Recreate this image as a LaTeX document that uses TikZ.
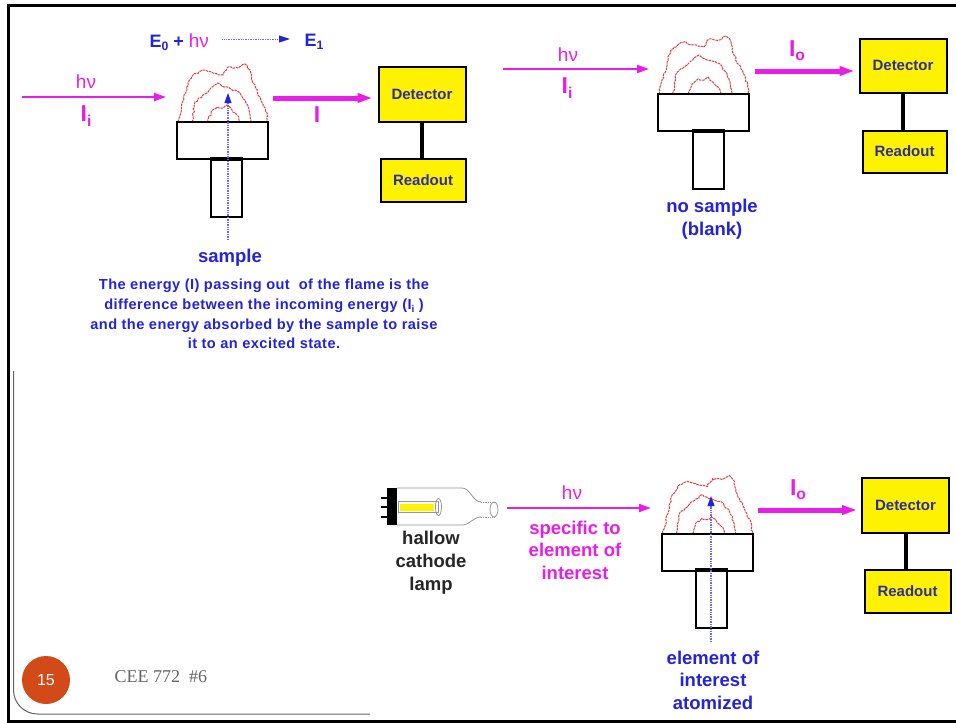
\documentclass[tikz,border=0pt]{standalone}
\usepackage{graphicx}
\usepackage{fontspec}
\setmainfont{Liberation Sans}
\newfontfamily\footserif{Liberation Serif}
\usetikzlibrary{arrows.meta,decorations.pathmorphing}

\definecolor{mag}{RGB}{232,30,232}
\definecolor{txtblue}{RGB}{35,35,215}
\definecolor{boxtxt}{RGB}{45,45,165}
\definecolor{flamered}{RGB}{232,60,60}
\definecolor{rayblue}{RGB}{105,105,255}
\definecolor{badge}{RGB}{210,74,24}
\definecolor{glass}{RGB}{150,150,150}
\definecolor{footgray}{RGB}{100,100,100}

% small lowered index, e.g. I_i, E_0
\newcommand\lowidx[1]{\raisebox{-0.35ex}{\scalebox{0.68}{#1}}}

\tikzset{
  burnerhead/.style={draw, line width=2pt, fill=white, minimum width=91pt, minimum height=37pt, inner sep=0pt},
  burnerneck/.style={draw, line width=2pt, fill=white, minimum width=31pt, minimum height=57pt, inner sep=0pt},
  instr/.style={draw, line width=2pt, fill=yellow, inner sep=0pt, text=boxtxt,
                font=\fontsize{15}{18}\selectfont\bfseries},
  link/.style={line width=4pt},
  beamin/.style={mag, line width=2pt, -{Triangle[length=12pt,width=8pt]}},
  beamout/.style={mag, line width=5pt, -{Triangle[length=15pt,width=9pt]}},
  ray/.style={rayblue, dash pattern=on 1pt off 0.7pt, line width=1.2pt,
              -{Triangle[length=10pt,width=7pt,color=txtblue]}},
  beamlbl/.style={mag, font=\fontsize{19}{21}\selectfont},
  intlbl/.style={mag, font=\fontsize{23}{25}\selectfont\bfseries},
  bluetxt/.style={txtblue, align=center, font=\fontsize{18.5}{22.5}\selectfont\bfseries},
  flameline/.style={flamered, line width=1pt, dash pattern=on 2.5pt off 0.8pt,
                    decorate, decoration={random steps, segment length=2.5pt, amplitude=1pt}},
  flamepic/.pic={
    \draw[flameline] (1,0) -- (11,-39) -- (16,-47) -- (26,-52) -- (36,-49) -- (46,-47)
      -- (51,-55) -- (61,-54) -- (68,-58) -- (73,-52) -- (76,-39) -- (83,-25) -- (90,-9) -- (91,0);
    \draw[flameline] (15,0) -- (18,-20) -- (25,-26) -- (33,-33) -- (41,-39) -- (47,-35)
      -- (54,-33) -- (62,-30) -- (68,-22) -- (72,-12) -- (74,0);
    \draw[flameline] (31,0) -- (34,-10) -- (40,-15) -- (46,-14) -- (50,-17) -- (55,-12)
      -- (60,-7) -- (63,0);
  }
}

\begin{document}
\begin{tikzpicture}[x=1pt, y=-1pt]
\pgfmathsetseed{11}
\useasboundingbox (0,0) rectangle (956,723);
\fill[white] (0,0) rectangle (956,723);

% slide frame
\draw[line width=3pt] (956,5.5) -- (8.5,5.5) -- (8.5,721) -- (956,721);
\draw[footgray, line width=1pt] (13.5,371) -- (13.5,690) arc[start angle=180, end angle=90, radius=24] -- (370,714);

% ---------- flame with sample ----------
\pic at (177,122) {flamepic};
\node[burnerhead] (headA) at (222.5,140.5) {};
\node[burnerneck] (neckA) at (226.5,188.5) {};
\draw[line width=3.5pt] (neckA.north west) -- (neckA.north east);
\coordinate (srcA) at (228,240);
\coordinate (tipA) at (228,93);
\draw[ray] (srcA) -- (tipA);

\node[anchor=west, txtblue, font=\fontsize{18}{20}\selectfont\bfseries] (eA) at (146,42)
  {E\lowidx{0} + \textcolor{mag}{\mdseries\fontsize{19}{20}\selectfont hν}};
\node[anchor=west, txtblue, font=\fontsize{18}{20}\selectfont\bfseries] (eB) at (301,42) {E\lowidx{1}};
\draw[rayblue, dash pattern=on 1pt off 0.7pt, line width=1pt, -{Triangle[length=11pt,width=7pt,color=txtblue]}]
  ([shift={(10,-3)}]eA.east) -- ([shift={(-11,-3)}]eB.west);

\coordinate (inA) at (22,97);
\coordinate (inAend) at (166,97);
\draw[beamin] (inA) -- (inAend);
\node[beamlbl] (hvA) at (86,82) {hν};
\node[intlbl] (iiA) at (86,116) {I\lowidx{i}};

\node[instr, minimum width=87pt, minimum height=55pt] (detA) at (422,94) {Detector};
\node[instr, minimum width=85pt, minimum height=43pt] (readA) at (423,180) {Readout};
\draw[link] (detA.south) -- (detA.south |- readA.north);
\coordinate (outA) at (273,98);
\draw[beamout, shorten >=5pt] (outA) -- (outA -| detA.west);
\node[intlbl] (iA) at (317,115) {I};

\node[bluetxt] (sampleA) at (230,258) {sample};
\node[txtblue, align=center, font=\fontsize{14.6}{19.7}\selectfont\bfseries\addfontfeature{LetterSpace=3}] (explA) at (264,314)
  {The energy (I) passing out\ \ of the flame is the\\
   difference between the incoming energy (I\lowidx{i} )\\
   and the energy absorbed by the sample to raise\\
   it to an excited state.};

% ---------- blank flame ----------
\pic at (658,94) {flamepic};
\node[burnerhead] (headB) at (703.5,112.5) {};
\node[burnerneck] (neckB) at (708,160.5) {};
\draw[line width=3.5pt] (neckB.north west) -- (neckB.north east);

\coordinate (inB) at (503,69);
\coordinate (inBend) at (649,69);
\draw[beamin] (inB) -- (inBend);
\node[beamlbl] (hvB) at (568,55) {hν};
\node[intlbl] (iiB) at (567,88) {I\lowidx{i}};

\node[instr, minimum width=87pt, minimum height=54pt] (detB) at (903,65.5) {Detector};
\node[instr, minimum width=84pt, minimum height=42pt] (readB) at (904.5,151.5) {Readout};
\draw[link] (detB.south) -- (detB.south |- readB.north);
\coordinate (outB) at (755,71);
\draw[beamout, shorten >=4pt] (outB) -- (outB -| detB.west);
\node[intlbl] (ioB) at (797,51) {I\lowidx{o}};

\node[bluetxt] (blankB) at (712,219) {no sample\\(blank)};

% ---------- hollow cathode lamp set-up ----------
\fill (387,488) rectangle (397,525);
\foreach \py in {498,507,517} \draw[line width=2.5pt] (381,\py) -- (388,\py);
\draw[glass, line width=0.8pt] (397,488) -- (462,488) .. controls (470,488) and (473,502) .. (481,502);
\draw[glass, line width=0.8pt] (397,525) -- (462,525) .. controls (470,525) and (473,517) .. (481,517);
\draw[glass, line width=0.8pt, densely dotted] (481,502) -- (494,502);
\draw[glass, line width=0.8pt, densely dotted] (481,517) -- (494,517);
\draw[glass, line width=0.8pt] (494,509.5) ellipse[x radius=4, y radius=7.5];
\draw[glass, line width=0.8pt] (398,501.5) rectangle (438,512.5);
\fill[yellow] (400,503.5) rectangle (434,510.5);
\draw[glass, line width=0.8pt] (438.5,507) ellipse[x radius=3, y radius=8.5];
\node[align=center, text=black!85, font=\fontsize{18.5}{23}\selectfont\bfseries] (lampC) at (431,563)
  {hallow\\cathode\\lamp};

\coordinate (inC) at (507,508);
\coordinate (inCend) at (651,508);
\draw[beamin] (inC) -- (inCend);
\node[beamlbl] (hvC) at (572,493) {hν};
\node[mag, align=center, font=\fontsize{18.5}{22.5}\selectfont\bfseries] (specC) at (575,550)
  {specific to\\element of\\interest};

\pic at (661.5,533.5) {flamepic};
\node[burnerhead] (headC) at (707,552) {};
\node[burnerneck] (neckC) at (711,599.5) {};
\draw[line width=3.5pt] (neckC.north west) -- (neckC.north east);
\coordinate (srcC) at (711,642);
\coordinate (tipC) at (711,496);
\draw[ray] (srcC) -- (tipC);

\node[instr, minimum width=87pt, minimum height=55pt] (detC) at (905.5,505) {Detector};
\node[instr, minimum width=86pt, minimum height=43pt] (readC) at (907.5,591) {Readout};
\draw[link] (detC.south) -- (detC.south |- readC.north);
\coordinate (outC) at (758,510);
\draw[beamout, shorten >=4pt] (outC) -- (outC -| detC.west);
\node[intlbl] (ioC) at (798,490) {I\lowidx{o}};

\node[bluetxt] (atomC) at (713,680) {element of\\interest\\atomized};

% ---------- footer ----------
\node[circle, fill=badge, minimum size=48pt, inner sep=0pt, text=white,
      font=\fontsize{16}{18}\selectfont] (pageno) at (46,680) {15};
\node[anchor=west, text=footgray, font=\footserif\fontsize{18}{20}\selectfont] (course) at (111,677) {CEE 772\ \ \#6};
\end{tikzpicture}
\end{document}
